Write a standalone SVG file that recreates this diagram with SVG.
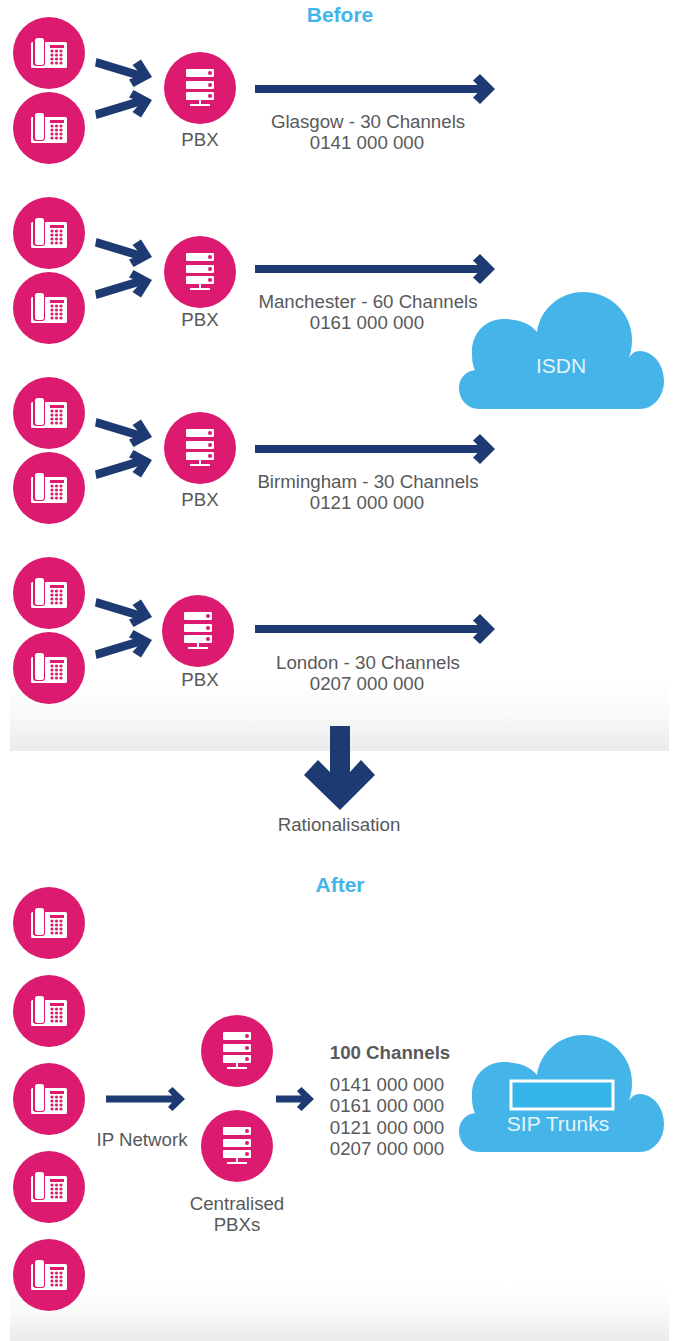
<svg xmlns="http://www.w3.org/2000/svg" xmlns:xlink="http://www.w3.org/1999/xlink" width="673" height="1341" viewBox="0 0 673 1341">
<style>
text{font-family:"Liberation Sans",Arial,sans-serif;font-size:18.7px;fill:#58595b;text-anchor:middle}
.h{fill:#45b4e8;font-weight:700;font-size:21px}
.b{font-weight:700}
.w{fill:#e4f4fc;font-size:21px}
.disc{fill:#dc1a6f}
.ic{fill:#fff}
.cloud{fill:#45b4e8}
.arr{fill:#1d3a72}
</style>
<defs>
<linearGradient id="band" x1="0" y1="0" x2="0" y2="1"><stop offset="0" stop-color="#fff"/><stop offset=".5" stop-color="#f8f9f9"/><stop offset="1" stop-color="#e9ebec"/></linearGradient>
<g id="phone">
<circle class="disc" r="36"/>
<rect class="ic" x="-18" y="-11" width="36" height="26" rx="1.500"/>
<rect class="disc" x="-16" y="-16" width="12" height="29" rx="3"/>
<rect class="ic" x="-14" y="-15" width="9" height="27" rx="2.500"/>
<rect class="disc" x="1" y="-8" width="14" height="3"/>
<g class="disc">
<circle cx="3" cy="-2" r="1.600"/><circle cx="7.500" cy="-2" r="1.600"/><circle cx="12" cy="-2" r="1.600"/>
<circle cx="3" cy="2" r="1.600"/><circle cx="7.500" cy="2" r="1.600"/><circle cx="12" cy="2" r="1.600"/>
<circle cx="3" cy="6" r="1.600"/><circle cx="7.500" cy="6" r="1.600"/><circle cx="12" cy="6" r="1.600"/>
<circle cx="3" cy="10" r="1.600"/><circle cx="7.500" cy="10" r="1.600"/><circle cx="12" cy="10" r="1.600"/>
</g>
</g>
<g id="server">
<circle class="disc" r="36"/>
<rect class="ic" x="-14" y="-19" width="28" height="8" rx="1"/>
<rect class="ic" x="-14" y="-7" width="28" height="8" rx="1"/>
<rect class="ic" x="-14" y="4" width="28" height="8" rx="1"/>
<circle class="disc" cx="10" cy="-15" r="2"/><circle class="disc" cx="10" cy="-3" r="2"/><circle class="disc" cx="10" cy="8" r="2"/>
<path class="ic" d="M-1 12h2v4h9v2h-20v-2h9z"/>
</g>
<g id="pair">
<polygon class="arr" points="96.500,58 137.500,70.500 132.500,65 141,59.500 152,77 133.500,87 129,79.500 133,78 95,66.500"/>
<polygon class="arr" points="96.500,119 137.500,106.500 132.500,112 141,117.500 152,100 133.500,90 129,97.500 133,99 95,110.500"/>
</g>
<polygon id="long" class="arr" points="255,-4 477.500,-4 473,-8.500 480,-15 495,0 480,15 473,8.500 477.500,4 255,4"/>
<path id="cloudshape" class="cloud" d="M480 1152C466 1152 459 1141 459 1131C459 1121 466 1114 475 1113C472 1107 472 1100 472 1094C472 1076 486 1062 503 1062C518 1062 530 1066 537 1075C540 1052 560 1035 583 1035C612 1035 632 1058 632 1082C632 1092 630 1100 626 1108C629 1100 632 1094 640 1094C655 1095 664 1109 664 1124C664 1140 653 1152 640 1152Z"/>
</defs>
<g id="backgrounds">
<rect x="10" y="680" width="659" height="71" fill="url(#band)"/>
<rect x="10" y="1285" width="659" height="56" fill="url(#band)"/>
</g>
<g id="connectors">
<use xlink:href="#pair" href="#pair"/>
<use xlink:href="#pair" href="#pair" y="180"/>
<use xlink:href="#pair" href="#pair" y="360"/>
<use xlink:href="#pair" href="#pair" y="540"/>
<use xlink:href="#long" href="#long" y="89"/>
<use xlink:href="#long" href="#long" y="269"/>
<use xlink:href="#long" href="#long" y="449"/>
<use xlink:href="#long" href="#long" y="629"/>
<polygon class="arr" points="330,726 350,726 350,772 361,760 375,775 340,810 304,775 318,760 330,772"/>
<polygon class="arr" points="106,1095.500 172,1095.500 168,1091 172.500,1087 185,1099 172.500,1111 168,1107 172,1102.500 106,1102.500"/>
<polygon class="arr" points="276,1095.500 301,1095.500 297,1091 301.500,1087 314,1099 301.500,1111 297,1107 301,1102.500 276,1102.500"/>
</g>
<text class="h" x="340" y="22">Before</text>
<text class="h" x="340" y="892">After</text>
<g id="row1"><use xlink:href="#phone" href="#phone" x="49" y="53"/><use xlink:href="#phone" href="#phone" x="49" y="128"/><use xlink:href="#server" href="#server" x="200" y="88"/><text x="200" y="146">PBX</text><text x="368" y="128">Glasgow - 30 Channels</text><text x="367" y="149">0141 000 000</text></g>
<g id="row2"><use xlink:href="#phone" href="#phone" x="49" y="233"/><use xlink:href="#phone" href="#phone" x="49" y="308"/><use xlink:href="#server" href="#server" x="200" y="272"/><text x="200" y="326">PBX</text><text x="368" y="308">Manchester - 60 Channels</text><text x="367" y="329">0161 000 000</text></g>
<g id="row3"><use xlink:href="#phone" href="#phone" x="49" y="413"/><use xlink:href="#phone" href="#phone" x="49" y="488"/><use xlink:href="#server" href="#server" x="200" y="448"/><text x="200" y="506">PBX</text><text x="368" y="488">Birmingham - 30 Channels</text><text x="367" y="509">0121 000 000</text></g>
<g id="row4"><use xlink:href="#phone" href="#phone" x="49" y="593"/><use xlink:href="#phone" href="#phone" x="49" y="668"/><use xlink:href="#server" href="#server" x="198" y="631"/><text x="200" y="686">PBX</text><text x="368" y="669">London - 30 Channels</text><text x="367" y="690">0207 000 000</text></g>
<g id="isdn"><use xlink:href="#cloudshape" href="#cloudshape" y="-743"/><text class="w" x="561" y="373">ISDN</text></g>
<text x="339" y="831">Rationalisation</text>
<g id="after-phones">
<use xlink:href="#phone" href="#phone" x="49" y="923"/><use xlink:href="#phone" href="#phone" x="49" y="1011"/><use xlink:href="#phone" href="#phone" x="49" y="1099"/><use xlink:href="#phone" href="#phone" x="49" y="1187"/><use xlink:href="#phone" href="#phone" x="49" y="1275"/>
</g>
<text x="142" y="1146">IP Network</text>
<g id="central"><use xlink:href="#server" href="#server" x="237" y="1051"/><use xlink:href="#server" href="#server" x="237" y="1146"/><text x="237" y="1210">Centralised</text><text x="237" y="1231">PBXs</text></g>
<g id="numbers"><text class="b" x="390" y="1059">100 Channels</text><text x="387" y="1091">0141 000 000</text><text x="387" y="1112">0161 000 000</text><text x="387" y="1134">0121 000 000</text><text x="387" y="1155">0207 000 000</text></g>
<g id="sip"><use xlink:href="#cloudshape" href="#cloudshape"/><rect x="511" y="1081" width="102" height="28" fill="#36b5ea" stroke="#fff" stroke-width="3"/><text class="w" x="558" y="1131">SIP Trunks</text></g>
</svg>
